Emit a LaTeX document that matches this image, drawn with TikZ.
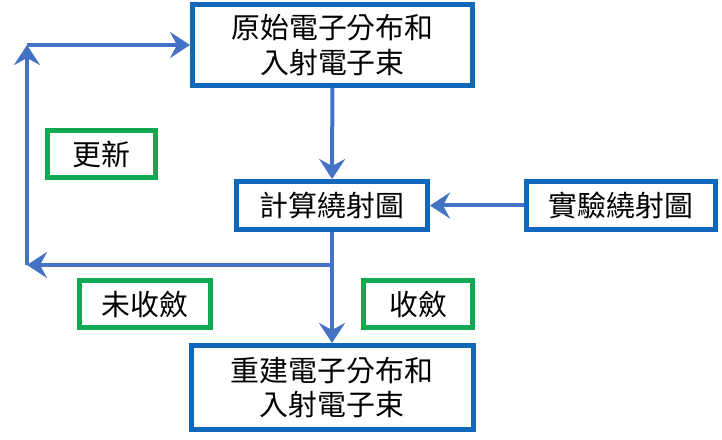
\documentclass[tikz,border=0pt]{standalone}
\usepackage{fontspec}
\newfontfamily\cjk{Noto Sans CJK TC}
\usetikzlibrary{arrows.meta}
\definecolor{boxblue}{RGB}{16,104,186}
\definecolor{lineblue}{RGB}{68,114,196}
\definecolor{boxgreen}{RGB}{16,168,80}
\tikzset{
	stepbox/.style={draw=boxblue, line width=5bp, fill=white, inner sep=0pt, align=center},
	tagbox/.style={draw=boxgreen, line width=5bp, fill=white, inner sep=0pt, align=center},
	flow/.style={draw=lineblue, line width=4bp, -{Stealth[length=20bp,width=26bp,inset=7bp]}},
	plainflow/.style={draw=lineblue, line width=4bp}
}

\begin{document}
\begin{tikzpicture}[x=1bp, y=-1bp, font=\cjk\fontsize{29}{35}\selectfont]
		%%%%% START %%%%%
		\useasboundingbox (0, 0) rectangle (722, 440);
		
		\node[stepbox, minimum width=280bp, minimum height=81bp] (start) at (332.5, 45) {原始電子分布和\\入射電子束};
		\node[stepbox, minimum width=191bp, minimum height=48bp] (calc) at (332, 205.5) {計算繞射圖};
		\node[stepbox, minimum width=189bp, minimum height=48bp] (exp) at (621, 205.5) {實驗繞射圖};
		\node[stepbox, minimum width=282bp, minimum height=84bp] (result) at (332, 387.5) {重建電子分布和\\入射電子束};
		
		\node[tagbox, minimum width=108bp, minimum height=47bp] (update) at (101.5, 154) {更新};
		\node[tagbox, minimum width=131bp, minimum height=47bp] (notconv) at (145, 304) {未收斂};
		\node[tagbox, minimum width=109bp, minimum height=47bp] (conv) at (418, 304) {收斂};
		
		\coordinate (split) at (332, 265);
		\coordinate (backdown) at (27, 265);
		\coordinate (backup) at (27, 45);
		
		\draw[flow] (start) -- (calc);
		\draw[flow] (exp) -- (calc);
		\draw[flow] (calc) -- (result);
		\draw[flow] (split) -- (backdown);
		\draw[flow] (backdown) -- (backup);
		\draw[flow] (backup) -- (start);
		%%%%% END %%%%%
	\end{tikzpicture}
\end{document}
